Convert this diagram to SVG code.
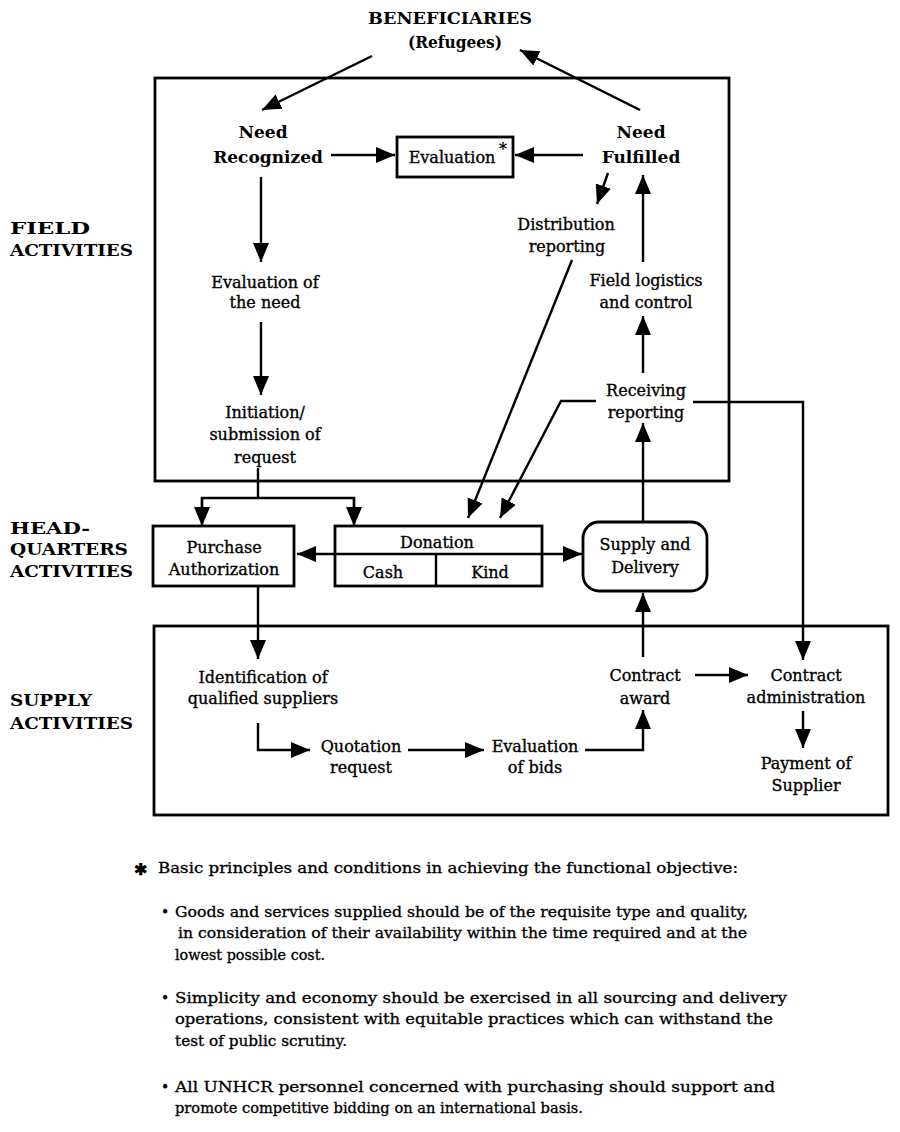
<svg xmlns="http://www.w3.org/2000/svg" width="900" height="1132" viewBox="0 0 900 1132">
<style>
text{font-family:"DejaVu Serif","Liberation Serif",serif;fill:#000;dominant-baseline:central}
.n{font-size:16px;text-anchor:middle;stroke:#000;stroke-width:0.35}
.h{font-size:17px;font-weight:bold;text-anchor:middle}
.side{font-size:16px;font-weight:bold}
.fn{font-size:14px;stroke:#000;stroke-width:0.3}
.box{fill:none;stroke:#000;stroke-width:2.8}
.c{fill:none;stroke:#000;stroke-width:2.4}
.ca{fill:none;stroke:#000;stroke-width:2.4;marker-end:url(#ah)}
</style>
<defs>
<marker id="ah" markerUnits="userSpaceOnUse" markerWidth="21" markerHeight="17" refX="19" refY="8" orient="auto">
<path d="M0,0 L19,8 L0,16 z" fill="#000"/>
</marker>
<marker id="as" markerUnits="userSpaceOnUse" markerWidth="21" markerHeight="17" refX="0" refY="8" orient="auto">
<path d="M19,0 L0,8 L19,16 z" fill="#000"/>
</marker>
</defs>
<rect width="900" height="1132" fill="#fff"/>

<g id="side-labels">
<text class="side" x="10" y="228" textLength="80" lengthAdjust="spacingAndGlyphs">FIELD</text>
<text class="side" x="10" y="250" textLength="123" lengthAdjust="spacingAndGlyphs">ACTIVITIES</text>
<text class="side" x="10" y="528" textLength="80" lengthAdjust="spacingAndGlyphs">HEAD-</text>
<text class="side" x="10" y="549" textLength="118" lengthAdjust="spacingAndGlyphs">QUARTERS</text>
<text class="side" x="10" y="571" textLength="123" lengthAdjust="spacingAndGlyphs">ACTIVITIES</text>
<text class="side" x="10" y="700" textLength="82" lengthAdjust="spacingAndGlyphs">SUPPLY</text>
<text class="side" x="10" y="723" textLength="123" lengthAdjust="spacingAndGlyphs">ACTIVITIES</text>
</g>

<g id="field-box"><rect class="box" x="155" y="78" width="574" height="403"/></g>
<g id="supply-box"><rect class="box" x="154" y="626" width="734" height="189"/></g>

<g id="beneficiaries">
<text class="h" x="450" y="18" font-size="15" textLength="164" lengthAdjust="spacingAndGlyphs">BENEFICIARIES</text>
<text class="h" x="455" y="42" font-size="14" textLength="94" lengthAdjust="spacingAndGlyphs">(Refugees)</text>
</g>
<g id="need-recognized">
<text class="h" x="263" y="132">Need</text>
<text class="h" x="268" y="157">Recognized</text>
</g>
<g id="evaluation">
<rect class="box" x="397" y="137" width="116" height="40" stroke-width="2.4"/>
<text class="n" x="452" y="157" font-size="15">Evaluation</text>
<text x="503" y="148" font-size="16" font-weight="bold" text-anchor="middle">*</text>
</g>
<g id="need-fulfilled">
<text class="h" x="641" y="132">Need</text>
<text class="h" x="641" y="157">Fulfilled</text>
</g>
<g id="distribution-reporting">
<text class="n" x="566" y="224">Distribution</text>
<text class="n" x="567" y="246">reporting</text>
</g>
<g id="field-logistics">
<text class="n" x="646" y="280">Field logistics</text>
<text class="n" x="646" y="302">and control</text>
</g>
<g id="receiving-reporting">
<text class="n" x="646" y="390">Receiving</text>
<text class="n" x="646" y="412">reporting</text>
</g>
<g id="evaluation-of-need">
<text class="n" x="265" y="282">Evaluation of</text>
<text class="n" x="265" y="302">the need</text>
</g>
<g id="initiation">
<text class="n" x="265" y="412">Initiation/</text>
<text class="n" x="265" y="434">submission of</text>
<text class="n" x="265" y="457">request</text>
</g>
<g id="purchase-authorization">
<rect class="box" x="153" y="526" width="141" height="60" stroke-width="2.6"/>
<text class="n" x="224" y="547">Purchase</text>
<text class="n" x="224" y="569">Authorization</text>
</g>
<g id="donation">
<rect class="box" x="335" y="526" width="207" height="60" stroke-width="2.6"/>
<line class="c" x1="436" y1="554" x2="436" y2="586"/>
<text class="n" x="437" y="542">Donation</text>
<text class="n" x="383" y="572">Cash</text>
<text class="n" x="490" y="572">Kind</text>
</g>
<g id="supply-delivery">
<rect class="box" x="583" y="522" width="124" height="69" rx="16" ry="16"/>
<text class="n" x="645" y="544">Supply and</text>
<text class="n" x="645" y="567">Delivery</text>
</g>
<g id="identification">
<text class="n" x="263" y="677">Identification of</text>
<text class="n" x="263" y="698">qualified suppliers</text>
</g>
<g id="quotation">
<text class="n" x="361" y="746">Quotation</text>
<text class="n" x="361" y="767">request</text>
</g>
<g id="evaluation-bids">
<text class="n" x="535" y="746">Evaluation</text>
<text class="n" x="535" y="767">of bids</text>
</g>
<g id="contract-award">
<text class="n" x="645" y="675">Contract</text>
<text class="n" x="645" y="698">award</text>
</g>
<g id="contract-administration">
<text class="n" x="806" y="675">Contract</text>
<text class="n" x="806" y="697">administration</text>
</g>
<g id="payment">
<text class="n" x="806" y="763">Payment of</text>
<text class="n" x="806" y="785">Supplier</text>
</g>

<g id="connectors">
<line class="ca" x1="372" y1="56" x2="262" y2="110"/>
<line class="ca" x1="640" y1="110" x2="520" y2="50"/>
<line class="ca" x1="331" y1="155" x2="395" y2="155"/>
<line class="ca" x1="583" y1="155" x2="515" y2="155"/>
<line class="ca" x1="608" y1="173" x2="597" y2="204"/>
<line class="ca" x1="643" y1="262" x2="643" y2="175"/>
<line class="ca" x1="643" y1="373" x2="643" y2="316"/>
<line class="ca" x1="643" y1="522" x2="643" y2="423"/>
<line class="ca" x1="261" y1="177" x2="261" y2="262"/>
<line class="ca" x1="261" y1="322" x2="261" y2="395"/>
<line class="c" x1="258" y1="468" x2="258" y2="498"/>
<polyline class="c" points="202,520 202,498 354,498 354,520"/>
<line class="ca" x1="202" y1="498" x2="202" y2="526"/>
<line class="ca" x1="354" y1="498" x2="354" y2="526"/>
<line class="ca" x1="572" y1="260" x2="468" y2="518"/>
<polyline class="ca" points="596,401 561,401 500,518"/>
<polyline class="ca" points="693,402 803,402 803,660"/>
<line class="c" x1="297" y1="554" x2="582" y2="554" marker-start="url(#as)" marker-end="url(#ah)"/>
<line class="ca" x1="258" y1="586" x2="258" y2="659"/>
<polyline class="ca" points="258,723 258,750 310,750"/>
<line class="ca" x1="408" y1="750" x2="484" y2="750"/>
<polyline class="ca" points="585,750 643,750 643,710"/>
<line class="ca" x1="643" y1="657" x2="643" y2="593"/>
<line class="ca" x1="695" y1="675" x2="748" y2="675"/>
<line class="ca" x1="803" y1="711" x2="803" y2="748"/>
</g>

<g id="footnote">
<text x="134" y="869" font-size="16" font-weight="bold">✱</text>
<text class="fn" x="158" y="868" textLength="580" lengthAdjust="spacingAndGlyphs">Basic principles and conditions in achieving the functional objective:</text>
<text class="fn" x="161" y="912">•</text>
<text class="fn" x="175" y="912" textLength="573" lengthAdjust="spacingAndGlyphs">Goods and services supplied should be of the requisite type and quality,</text>
<text class="fn" x="178" y="933" textLength="569" lengthAdjust="spacingAndGlyphs">in consideration of their availability within the time required and at the</text>
<text class="fn" x="175" y="955" textLength="150" lengthAdjust="spacingAndGlyphs">lowest possible cost.</text>
<text class="fn" x="161" y="998">•</text>
<text class="fn" x="175" y="998" textLength="612" lengthAdjust="spacingAndGlyphs">Simplicity and economy should be exercised in all sourcing and delivery</text>
<text class="fn" x="175" y="1019" textLength="598" lengthAdjust="spacingAndGlyphs">operations, consistent with equitable practices which can withstand the</text>
<text class="fn" x="175" y="1041" textLength="172" lengthAdjust="spacingAndGlyphs">test of public scrutiny.</text>
<text class="fn" x="161" y="1087">•</text>
<text class="fn" x="175" y="1087" textLength="600" lengthAdjust="spacingAndGlyphs">All UNHCR personnel concerned with purchasing should support and</text>
<text class="fn" x="175" y="1108" textLength="408" lengthAdjust="spacingAndGlyphs">promote competitive bidding on an international basis.</text>
</g>
</svg>
